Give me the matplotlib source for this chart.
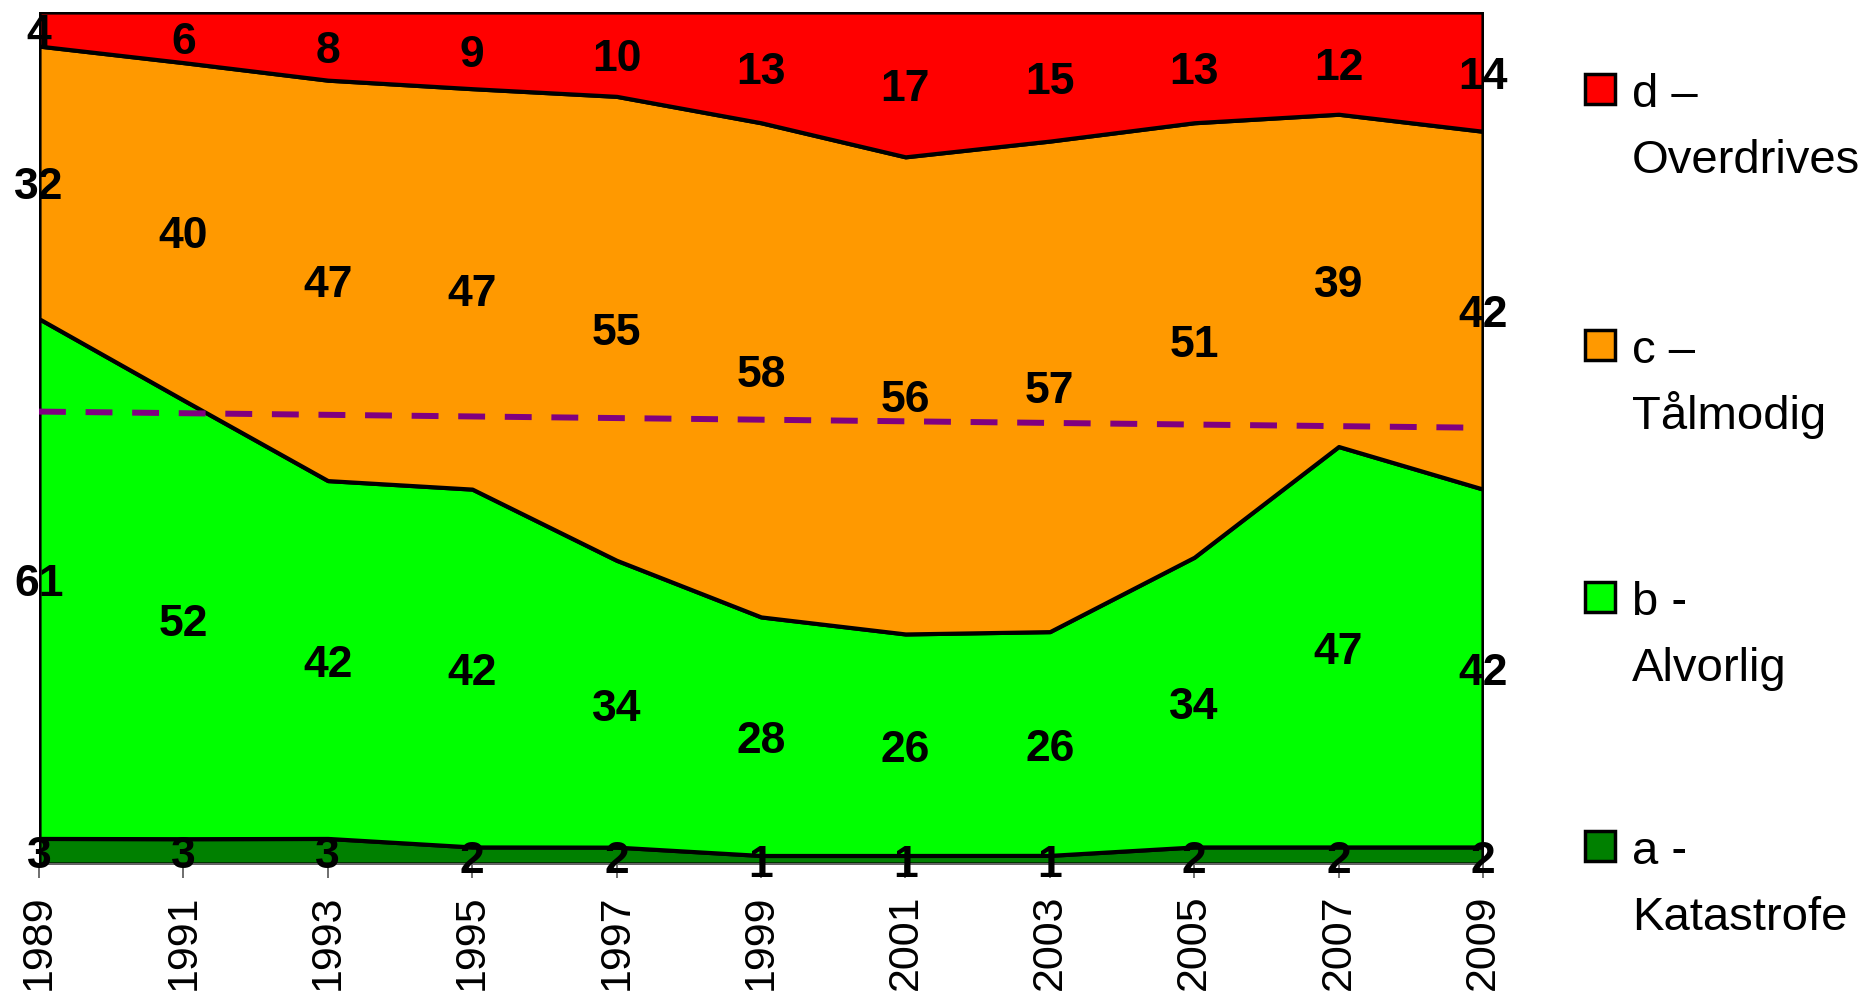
import numpy as np
import matplotlib.pyplot as plt
from matplotlib.patches import Rectangle
from matplotlib.transforms import offset_copy

# data (percent per answer category)
years = ['1989', '1991', '1993', '1995', '1997', '1999', '2001', '2003', '2005', '2007', '2009']
a_katastrofe = [3, 3, 3, 2, 2, 1, 1, 1, 2, 2, 2]
b_alvorlig = [61, 52, 42, 42, 34, 28, 26, 26, 34, 47, 42]
c_taalmodig = [32, 40, 47, 47, 55, 58, 56, 57, 51, 39, 42]
d_overdrives = [4, 6, 8, 9, 10, 13, 17, 15, 13, 12, 14]
trend_ends = [53.1, 51.2]   # dashed purple line, 1989 -> 2009

labels = ['a -\nKatastrofe', 'b -\nAlvorlig', 'c –\nTålmodig', 'd –\nOverdrives']
colors = ['#008000', '#00FF00', '#FF9900', '#FF0000']

W, H = 1868, 997
plt.rcParams['font.family'] = ['Liberation Sans', 'DejaVu Sans']
fig = plt.figure(figsize=(W / 100, H / 100), dpi=100)
ax = fig.add_axes([39 / W, 1 - 864 / H, (1483 - 39) / W, (864 - 12) / H])

series = np.array([a_katastrofe, b_alvorlig, c_taalmodig, d_overdrives], dtype=float)
pct = series / series.sum(axis=0) * 100
x = np.arange(len(years))

ax.stackplot(x, pct, colors=colors, edgecolor='black', linewidth=3.0)

# dashed trend line
ax.plot([x[0], x[-1]], trend_ends, color='#800080', lw=4.3, dashes=(4.5, 3.3), zorder=3)

# value labels in the middle of each band (nudged down a little, like the original)
lab_tr = offset_copy(ax.transData, fig=fig, x=0, y=-4, units='points')
bottoms = np.vstack([np.zeros(len(x)), np.cumsum(pct, axis=0)[:-1]])
for k in range(series.shape[0]):
    for i in range(len(x)):
        ax.text(x[i], bottoms[k, i] + pct[k, i] / 2, str(int(series[k, i])),
                transform=lab_tr, ha='center', va='center', fontsize=32,
                fontweight='bold', color='black', clip_on=False, zorder=4)

ax.set_xlim(0, len(x) - 1)
ax.set_ylim(0, 100)
ax.set_yticks([])
ax.set_xticks(x)
ax.set_xticklabels(years, rotation=90, fontsize=31)
ax.tick_params(axis='x', length=10, width=1.2, color='#555555', pad=12)
for s in ['left', 'right', 'top']:
    ax.spines[s].set_visible(False)
ax.spines['bottom'].set_color('#777777')
ax.spines['bottom'].set_linewidth(1.2)

# legend, drawn by hand so the swatch sits next to the first line
legend_y = [846, 597, 345, 89]   # swatch centres, pixels from top
for lab, col, yc in zip(labels, colors, legend_y):
    fig.patches.append(Rectangle((1585 / W, 1 - (yc + 15) / H), 30 / W, 30 / H,
                                 transform=fig.transFigure, facecolor=col,
                                 edgecolor='black', linewidth=2.5))
    first, second = lab.split('\n')
    fig.text(1632 / W, 1 - (yc + 18) / H, first, fontsize=34, va='baseline', ha='left')
    fig.text(1632 / W, 1 - (yc + 84) / H, second, fontsize=34, va='baseline', ha='left')

fig.savefig('out.png', dpi=100)
